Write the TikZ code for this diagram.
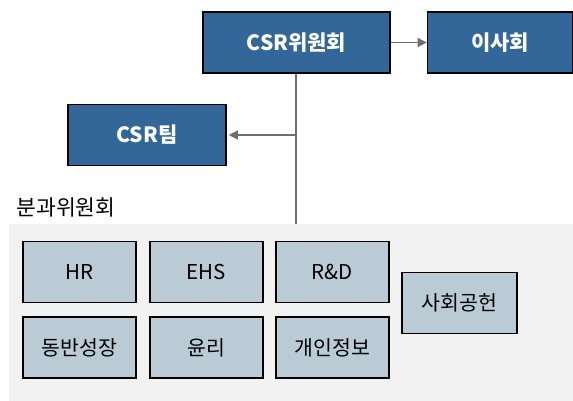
\documentclass[tikz,border=0pt]{standalone}
\usepackage{fontspec}
\setmainfont{Noto Sans CJK KR}
\usepackage{tikz}
\usetikzlibrary{arrows.meta}

\definecolor{csrblue}{HTML}{336699}
\definecolor{subblue}{HTML}{BACBD5}
\definecolor{bggray}{HTML}{F2F2F2}
\definecolor{linegray}{HTML}{6E6E6E}

\begin{document}
\begin{tikzpicture}[x=1pt,y=-1pt,
  topbox/.style={draw=black,line width=1.6pt,fill=csrblue,text=white,
    font=\fontsize{21}{23}\selectfont\bfseries,inner sep=0pt,
    minimum height=61pt},
  subbox/.style={draw=black,line width=1.6pt,fill=subblue,text=black,
    font=\fontsize{20.5}{23}\selectfont,inner sep=0pt,
    minimum width=113pt,minimum height=61pt},
  link/.style={draw=linegray,line width=1.4pt},
  linkarrow/.style={link,-{Triangle[length=9pt,width=9pt]}}]
\useasboundingbox (0,0) rectangle (573,401);
% background of the sub-committees
\fill[bggray] (9,224) rectangle (573,401);
% top level
\node[topbox,minimum width=187pt] (committee) at (296.5,42.5) {CSR위원회};
\node[topbox,minimum width=145pt] (board) at (500,42.5) {이사회};
\node[topbox,minimum width=158pt] (team) at (147,135) {CSR팀};
\node[anchor=west,font=\fontsize{21.5}{23}\selectfont] (sublabel) at (13,207) {분과위원회};
% sub-committees
\node[subbox] (hr) at (79.5,272) {HR};
\node[subbox] (ehs) at (206.5,272) {EHS};
\node[subbox] (rnd) at (332.5,272) {R\&D};
\node[subbox] (partner) at (79.5,347.5) {동반성장};
\node[subbox] (ethics) at (206.5,347.5) {윤리};
\node[subbox] (privacy) at (332.5,347.5) {개인정보};
\node[subbox,minimum width=115pt] (social) at (459.5,303) {사회공헌};
% connectors
\coordinate (trunkend) at (296,224);
\coordinate (branch) at (296,135);
\draw[linkarrow] (committee.east) -- (board.west);
\draw[link] (committee.south -| trunkend) -- (trunkend);
\draw[linkarrow,shorten >=2pt] (branch) -- (team.east);
\end{tikzpicture}
\end{document}
